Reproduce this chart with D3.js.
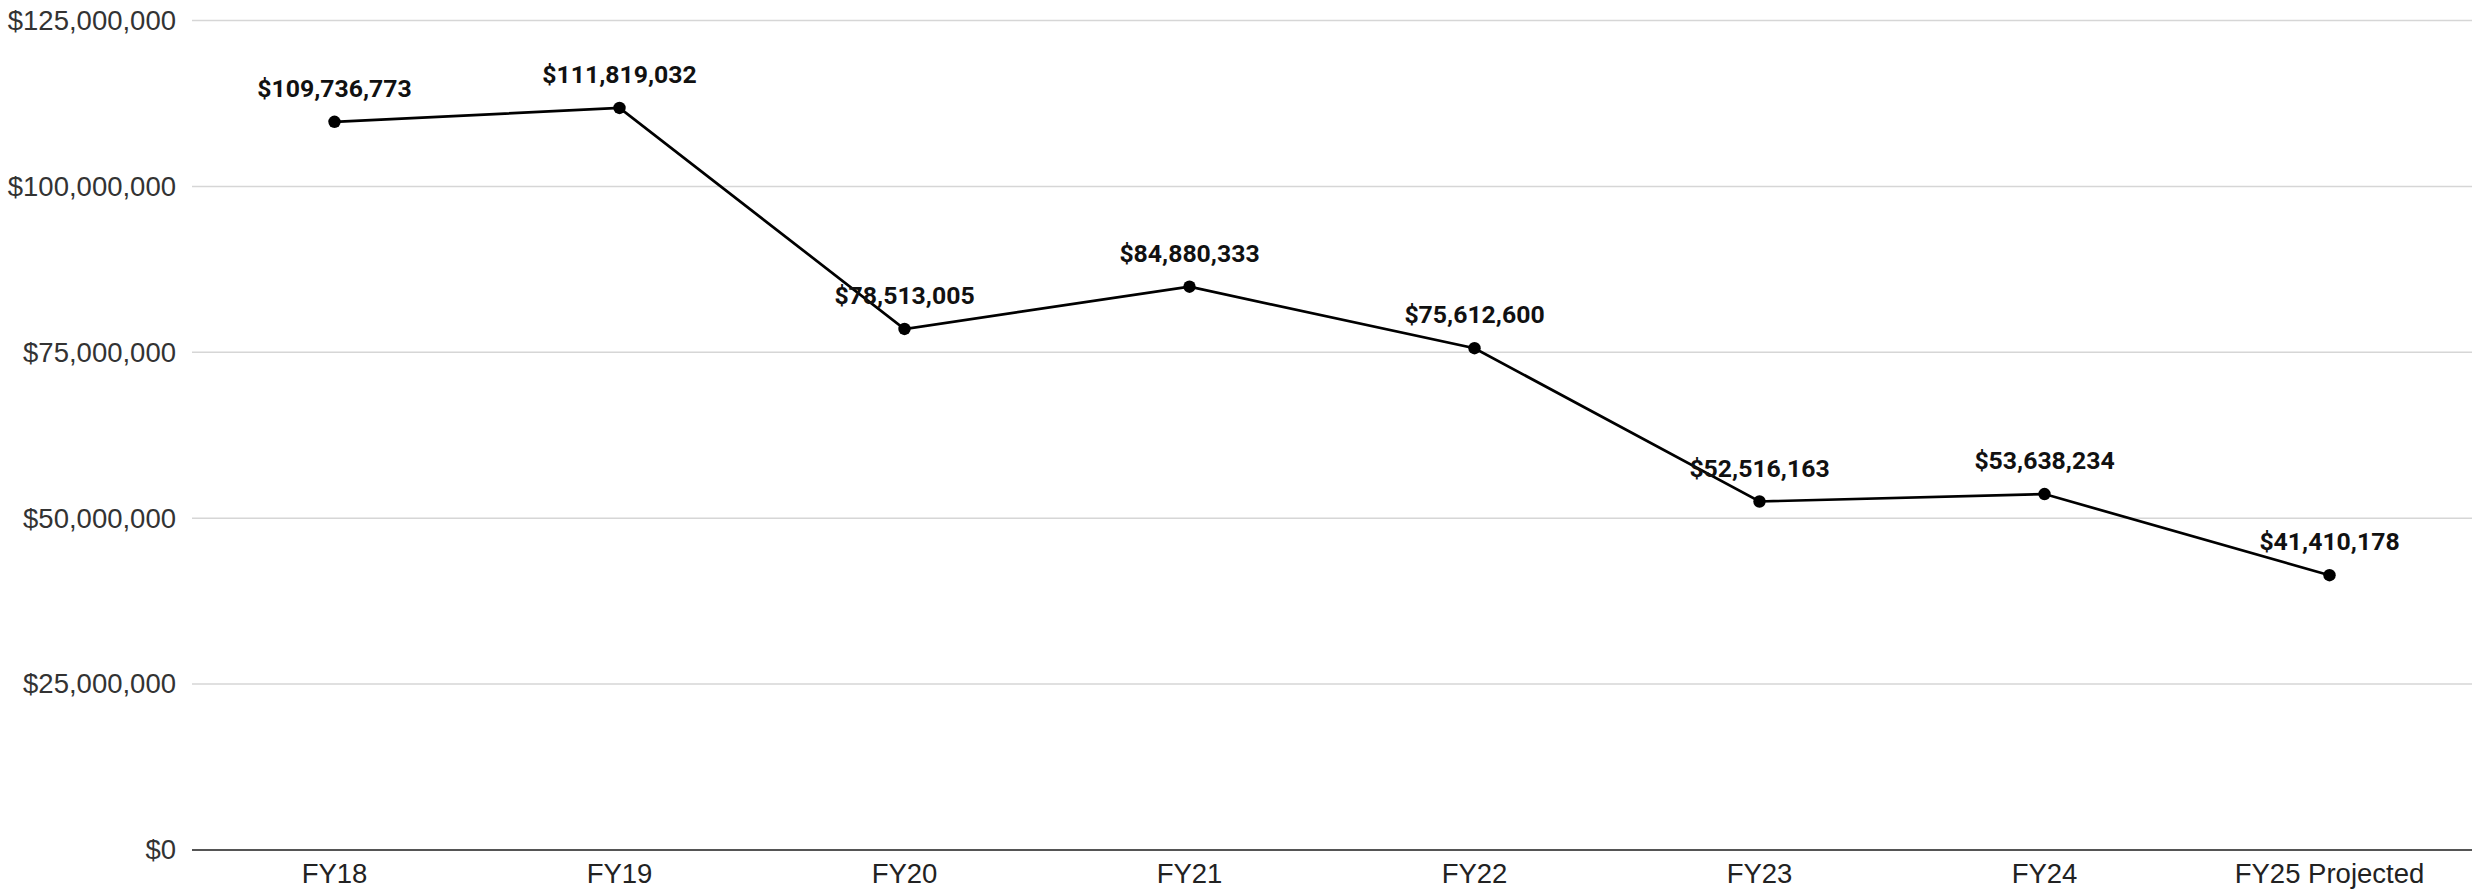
<!DOCTYPE html>
<html><head><meta charset="utf-8">
<script src="https://cdn.jsdelivr.net/npm/d3@7"></script>
<style>html,body{margin:0;padding:0;background:#fff;}</style>
</head><body><svg id="c" width="2478" height="893"></svg>
<script>
const categories = ["FY18","FY19","FY20","FY21","FY22","FY23","FY24","FY25 Projected"];
const values = [109736773,111819032,78513005,84880333,75612600,52516163,53638234,41410178];
const yTicks = [0,25000000,50000000,75000000,100000000,125000000];

(function(){
const mL=192, mR=2472, mT=20.5, mB=850;
const svg=d3.select("#c");
const x=d3.scaleBand().domain(categories).range([mL,mR]).padding(0);
const y=d3.scaleLinear().domain([0,125000000]).range([mB,mT]);
const fmt=v=>"$"+d3.format(",")(v);

svg.append("g").selectAll("line").data(yTicks.filter(d=>d>0)).join("line")
  .attr("x1",mL).attr("x2",mR).attr("y1",d=>y(d)).attr("y2",d=>y(d))
  .attr("stroke","#d6d6d6").attr("stroke-width",1.5);

const ya=svg.append("g").attr("transform",`translate(${mL},0)`)
  .call(d3.axisLeft(y).tickValues(yTicks).tickFormat(fmt).tickSize(0).tickPadding(16));
ya.select(".domain").remove();
ya.selectAll("text").attr("font-family","'Liberation Sans',Arial,sans-serif").attr("font-size",27.5).attr("fill","#333");

svg.append("line").attr("x1",mL).attr("x2",mR).attr("y1",y(0)).attr("y2",y(0))
  .attr("stroke","#555").attr("stroke-width",2);

const xa=svg.append("g").attr("transform",`translate(0,${mB})`)
  .call(d3.axisBottom(x).tickSize(0).tickPadding(13));
xa.select(".domain").remove();
xa.selectAll("text").attr("font-family","'Liberation Sans',Arial,sans-serif").attr("font-size",27.5).attr("fill","#222");

const cx=d=>x(d)+x.bandwidth()/2;
svg.append("path").datum(values)
  .attr("d",d3.line().x((d,i)=>cx(categories[i])).y(d=>y(d)))
  .attr("fill","none").attr("stroke","#000").attr("stroke-width",2.7);

svg.append("g").selectAll("circle").data(values).join("circle")
  .attr("cx",(d,i)=>cx(categories[i])).attr("cy",d=>y(d)).attr("r",6.2).attr("fill","#000");

svg.append("g").selectAll("text").data(values).join("text")
  .attr("x",(d,i)=>cx(categories[i])).attr("y",d=>y(d)-25)
  .attr("text-anchor","middle").attr("font-family","Roboto,sans-serif").attr("font-weight","bold")
  .attr("font-size",24.8).attr("fill","#111").text(fmt);
})();
</script></body></html>
